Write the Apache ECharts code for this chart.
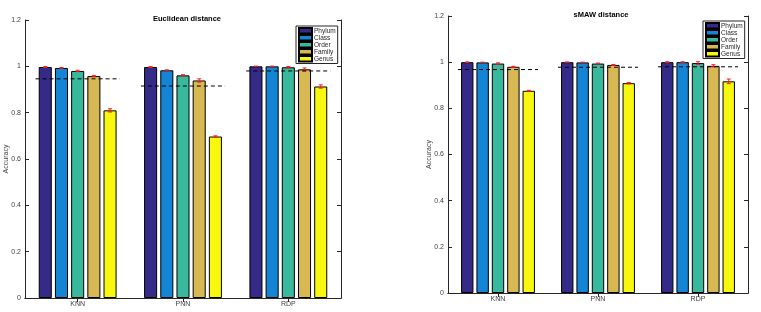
<!DOCTYPE html>
<html>
<head>
<meta charset="utf-8">
<script src="https://cdn.jsdelivr.net/npm/echarts@6/dist/echarts.min.js"></script>
<style>html,body{margin:0;padding:0;background:#fff}#c{width:761px;height:312px}</style>
</head>
<body>
<div id="c"></div>
<script>
// ---- data ----
const categories = ['KNN', 'PNN', 'RDP'];
const levels = ['Phylum', 'Class', 'Order', 'Family', 'Genus'];
const yTicks = [0, 0.2, 0.4, 0.6, 0.8, 1, 1.2];

// Euclidean distance
const eucPhylum = [0.997, 0.997, 1.000];
const eucClass  = [0.993, 0.983, 1.000];
const eucOrder  = [0.980, 0.961, 0.996];
const eucFamily = [0.958, 0.939, 0.987];
const eucGenus  = [0.810, 0.697, 0.913];
const eucPhylumErr = [0.002, 0.002, 0.001];
const eucClassErr  = [0.002, 0.002, 0.001];
const eucOrderErr  = [0.003, 0.003, 0.003];
const eucFamilyErr = [0.003, 0.007, 0.006];
const eucGenusErr  = [0.007, 0.003, 0.007];
const eucBaseline  = [0.946, 0.915, 0.980];

// sMAW distance
const smawPhylum = [1.000, 1.000, 1.000];
const smawClass  = [0.999, 0.999, 1.000];
const smawOrder  = [0.994, 0.994, 0.996];
const smawFamily = [0.980, 0.988, 0.984];
const smawGenus  = [0.876, 0.909, 0.917];
const smawPhylumErr = [0.001, 0.001, 0.002];
const smawClassErr  = [0.001, 0.001, 0.002];
const smawOrderErr  = [0.003, 0.002, 0.006];
const smawFamilyErr = [0.002, 0.002, 0.005];
const smawGenusErr  = [0.002, 0.003, 0.010];
const smawBaseline  = [0.968, 0.978, 0.980];

const colors = ['#352a87', '#1485d4', '#38b99e', '#d7b853', '#f8f80f'];
const FONT = 'Liberation Sans, Arial, sans-serif';
const BW = 0.124, GAP = 0.24;

function barSeries(vals, xi, yi) {
  return vals.map((v, i) => ({
    name: levels[i], type: 'bar', xAxisIndex: xi, yAxisIndex: yi,
    data: v, barWidth: (BW * 100) + '%', barGap: (GAP * 100) + '%',
    itemStyle: { color: colors[i], borderColor: '#000', borderWidth: 1 },
    emphasis: { disabled: true }, z: 2
  }));
}
function errSeries(vals, errs, xi, yi) {
  return vals.map((v, i) => ({
    type: 'custom', xAxisIndex: xi, yAxisIndex: yi, z: 5, silent: true,
    data: v.map((val, k) => [k, val, errs[i][k]]),
    encode: { x: 0, y: 1 },
    renderItem: function (params, api) {
      const k = api.value(0), val = api.value(1), e = api.value(2);
      const band = api.size([1, 0])[0];
      const c = api.coord([k, val]);
      const x = c[0] + (i - 2) * BW * (1 + GAP) * band;
      const yt = api.coord([k, val + e])[1];
      const yb = api.coord([k, val - e])[1];
      const cw = 2;
      const st = { stroke: '#ff1a1a', lineWidth: 1 };
      return { type: 'group', children: [
        { type: 'line', shape: { x1: x, y1: yt, x2: x, y2: yb }, style: st },
        { type: 'line', shape: { x1: x - cw, y1: yt, x2: x + cw, y2: yt }, style: st },
        { type: 'line', shape: { x1: x - cw, y1: yb, x2: x + cw, y2: yb }, style: st }
      ]};
    }
  }));
}
function baseSeries(vals, xi, yi) {
  return {
    type: 'custom', xAxisIndex: xi, yAxisIndex: yi, z: 6, silent: true,
    data: vals.map((v, k) => [k, v]),
    encode: { x: 0, y: 1 },
    renderItem: function (params, api) {
      const band = api.size([1, 0])[0];
      const c = api.coord([api.value(0), api.value(1)]);
      return { type: 'line',
        shape: { x1: c[0] - 0.4 * band, y1: c[1], x2: c[0] + 0.4 * band, y2: c[1] },
        style: { stroke: '#000', lineWidth: 1, lineDash: [4, 3] } };
    }
  };
}

const axisLine = { show: true, lineStyle: { color: '#262626', width: 1 } };
const tickStyle = { show: true, inside: true, length: 4, lineStyle: { color: '#262626' } };
const labelStyle = { color: '#404040', fontSize: 7, fontFamily: FONT };

function xAxes(gi) {
  return [
    { type: 'category', gridIndex: gi, data: categories, position: 'bottom',
      axisLine, axisTick: Object.assign({ alignWithLabel: true }, tickStyle),
      axisLabel: Object.assign({ margin: 3 }, labelStyle) },
    { type: 'category', gridIndex: gi, data: categories, position: 'top',
      axisLine, axisTick: Object.assign({ alignWithLabel: true }, tickStyle),
      axisLabel: { show: false } }
  ];
}
function yAxes(gi) {
  return [
    { type: 'value', gridIndex: gi, min: yTicks[0], max: yTicks[yTicks.length - 1], interval: 0.2,
      position: 'left', axisLine, axisTick: tickStyle, splitLine: { show: false },
      axisLabel: Object.assign({ margin: 4, formatter: v => String(+v.toFixed(1)) }, labelStyle),
      name: 'Accuracy', nameLocation: 'middle', nameGap: 15, nameRotate: 90, nameMoveOverlap: false,
      nameTextStyle: { color: '#404040', fontSize: 7, fontFamily: FONT } },
    { type: 'value', gridIndex: gi, min: yTicks[0], max: yTicks[yTicks.length - 1], interval: 0.2,
      position: 'right', axisLine, axisTick: tickStyle, splitLine: { show: false },
      axisLabel: { show: false } }
  ];
}
function legend(left, top) {
  return {
    data: levels.map(n => ({ name: n, icon: 'rect' })), orient: 'vertical', left: left, top: top,
    itemWidth: 13, itemHeight: 5.5, itemGap: -0.5, padding: [1, 2, 1, 2],
    borderColor: '#262626', borderWidth: 1, backgroundColor: '#fff',
    textStyle: { fontSize: 6.5, color: '#262626', fontFamily: FONT, padding: [0, 0, 0, -3] },
    selectedMode: false
  };
}

const chart = echarts.init(document.getElementById('c'), null, { renderer: 'canvas' });
chart.setOption({
  animation: false,
  backgroundColor: '#fff',
  title: [
    { text: 'Euclidean distance', left: 182, top: 10, textAlign: 'center',
      textStyle: { fontSize: 7.5, fontWeight: 'bold', color: '#000', fontFamily: FONT } },
    { text: 'sMAW distance', left: 596, top: 6, textAlign: 'center',
      textStyle: { fontSize: 7.5, fontWeight: 'bold', color: '#000', fontFamily: FONT } }
  ],
  legend: [legend(296, 26), legend(703, 21)],
  grid: [
    { left: 25, right: 420, top: 20, bottom: 14 },
    { left: 448, right: 13, top: 16, bottom: 19 }
  ],
  xAxis: [...xAxes(0), ...xAxes(1)],
  yAxis: [...yAxes(0), ...yAxes(1)],
  series: [
    ...barSeries([eucPhylum, eucClass, eucOrder, eucFamily, eucGenus], 0, 0),
    ...errSeries([eucPhylum, eucClass, eucOrder, eucFamily, eucGenus],
                 [eucPhylumErr, eucClassErr, eucOrderErr, eucFamilyErr, eucGenusErr], 0, 0),
    baseSeries(eucBaseline, 0, 0),
    ...barSeries([smawPhylum, smawClass, smawOrder, smawFamily, smawGenus], 2, 2),
    ...errSeries([smawPhylum, smawClass, smawOrder, smawFamily, smawGenus],
                 [smawPhylumErr, smawClassErr, smawOrderErr, smawFamilyErr, smawGenusErr], 2, 2),
    baseSeries(smawBaseline, 2, 2)
  ]
});
</script>
</body>
</html>
